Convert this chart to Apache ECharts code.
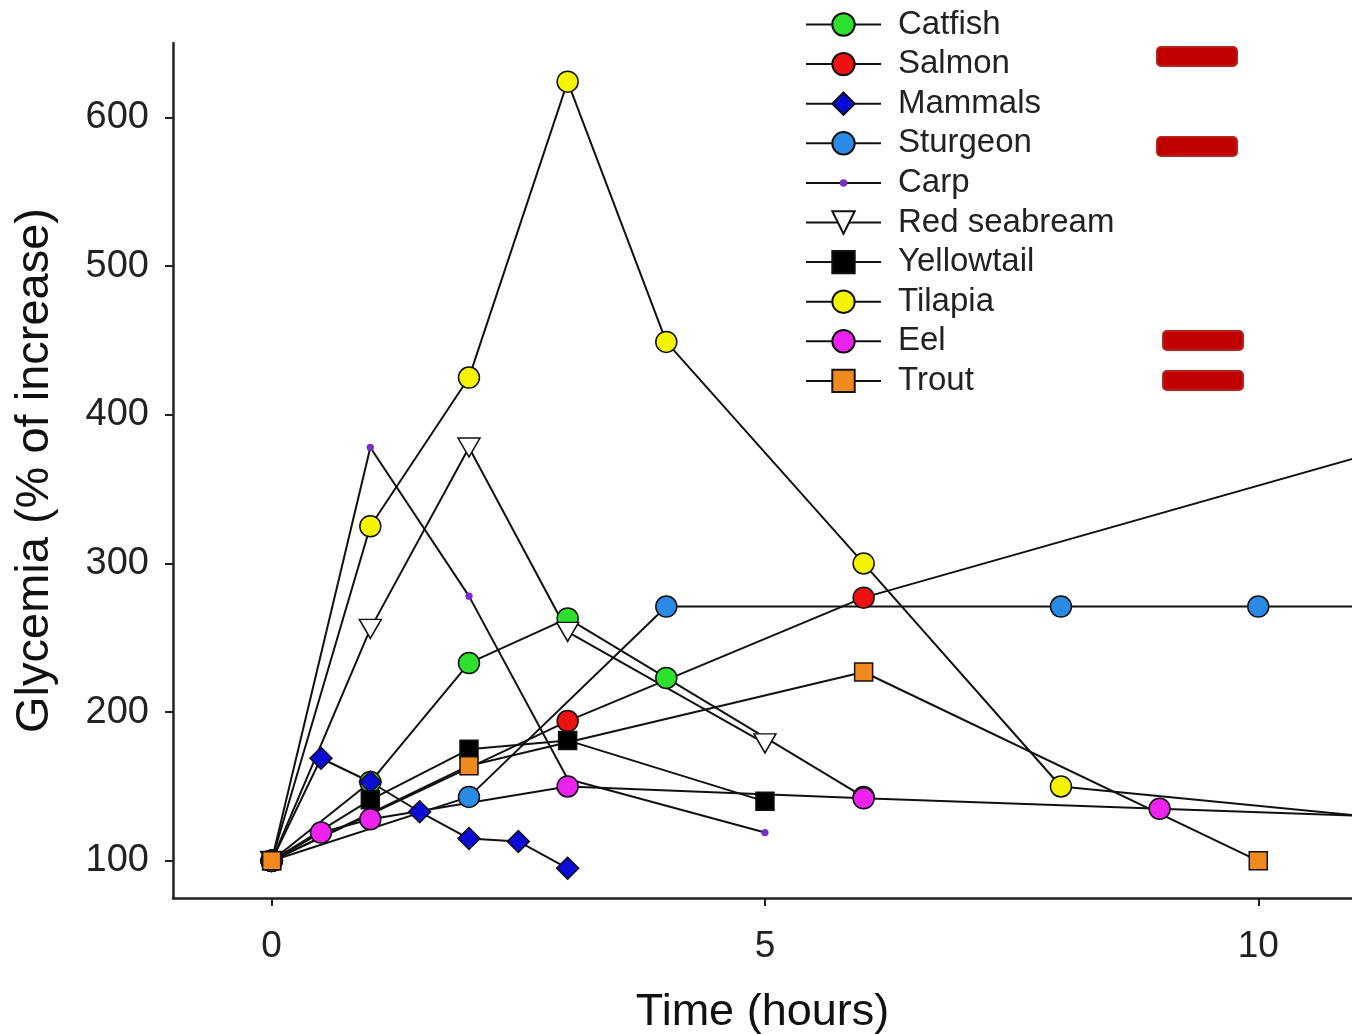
<!DOCTYPE html>
<html><head><meta charset="utf-8">
<script src="https://cdn.jsdelivr.net/npm/echarts@6/dist/echarts.min.js"></script>
<style>html,body{margin:0;padding:0;background:#fff}#c{width:1352px;height:1034px}</style>
</head><body><div id="c"></div>
<script>
// ---- data ----
const seriesNames = ['Catfish','Salmon','Mammals','Sturgeon','Carp','Red seabream','Yellowtail','Tilapia','Eel','Trout'];
const catfishData    = [[0,100],[1,153],[2,233],[3,263],[4,223],[6,143]];
const salmonData     = [[0,100],[3,194],[6,277],[12,390]];
const mammalsData    = [[0,100],[0.5,169],[1,153],[1.5,133],[2,115],[2.5,113],[3,95]];
const sturgeonData   = [[0,100],[2,143],[4,271],[8,271],[10,271],[12,271]];
const carpData       = [[0,100],[1,378],[2,278],[3,155],[5,119]];
const seabreamData   = [[0,100],[1,256],[2,378],[3,254],[5,179]];
const yellowtailData = [[0,100],[1,141],[2,175],[3,181],[5,140]];
const tilapiaData    = [[0,100],[1,325],[2,425],[3,624],[4,449],[6,300],[8,150],[12,124]];
const eelData        = [[0,100],[0.5,119],[1,128],[3,150],[6,142],[9,135],[12,128]];
const troutData      = [[0,100],[2,164],[6,227],[10,100]];
const xTicks = [0,5,10];
const yTicks = [100,200,300,400,500,600];
const xTitle = 'Time (hours)';
const yTitle = 'Glycemia (% of increase)';

// ---- styles ----
const dataByName = {
  'Catfish':catfishData,'Salmon':salmonData,'Mammals':mammalsData,'Sturgeon':sturgeonData,
  'Carp':carpData,'Red seabream':seabreamData,'Yellowtail':yellowtailData,'Tilapia':tilapiaData,
  'Eel':eelData,'Trout':troutData
};
const smallDot = 'path://M0,0M24,24M8,12A4,4,0,1,1,16,12A4,4,0,1,1,8,12Z';
const styleByName = {
  'Catfish':     {symbol:'circle', size:21, color:'#2EE02E'},
  'Salmon':      {symbol:'circle', size:21, color:'#EE1111'},
  'Mammals':     {symbol:'diamond', size:22, color:'#0B0BD6'},
  'Sturgeon':    {symbol:'circle', size:21, color:'#2A8BE6'},
  'Carp':        {symbol:smallDot, size:22, color:'#7A2FC8', border:0},
  'Red seabream':{symbol:'triangle', size:[22,19], color:'#FFFFFF', rotate:180},
  'Yellowtail':  {symbol:'rect', size:18, color:'#000000'},
  'Tilapia':     {symbol:'circle', size:21, color:'#F4F400'},
  'Eel':         {symbol:'circle', size:21, color:'#EE22EE'},
  'Trout':       {symbol:'rect', size:18, color:'#F08A1E'}
};
const FONT = '"Liberation Sans", Arial, Helvetica, sans-serif';

const series = seriesNames.map(n => {
  const s = styleByName[n];
  return {
    name: n, type: 'line', data: dataByName[n],
    symbol: s.symbol, symbolSize: s.size, symbolRotate: s.rotate || 0,
    showAllSymbol: true, clip: true, animation: false,
    lineStyle: {color:'#111', width:2},
    itemStyle: {color: s.color, borderColor:'#111', borderWidth: s.border === 0 ? 0 : 1.5},
    emphasis: {disabled:true}
  };
});

const chart = echarts.init(document.getElementById('c'), null, {renderer:'canvas'});
chart.setOption({
  animation: false,
  backgroundColor: '#fff',
  grid: {left:173, right:0, top:43, bottom:136, containLabel:false, outerBoundsMode:'none'},
  xAxis: {
    type:'value', min:-1, max:10.95,
    name: xTitle, nameLocation:'middle', nameGap:92,
    nameTextStyle:{fontFamily:FONT, fontSize:45, color:'#111'},
    axisLine:{show:true, onZero:false, lineStyle:{color:'#222', width:2.5}},
    axisTick:{show:true, length:8, inside:false, customValues:xTicks, lineStyle:{color:'#222', width:2}},
    axisLabel:{customValues:xTicks, fontFamily:FONT, fontSize:37, color:'#222', margin:30},
    splitLine:{show:false}
  },
  yAxis: {
    type:'value', min:75, max:650,
    name: yTitle, nameLocation:'middle', nameGap:114, nameRotate:90,
    nameTextStyle:{fontFamily:FONT, fontSize:47, color:'#111'},
    axisLine:{show:true, onZero:false, lineStyle:{color:'#222', width:2.5}},
    axisTick:{show:true, length:8, inside:false, customValues:yTicks, lineStyle:{color:'#222', width:2}},
    axisLabel:{customValues:yTicks, fontFamily:FONT, fontSize:38, color:'#222', margin:24},
    splitLine:{show:false}
  },
  legend: {
    data: seriesNames, orient:'vertical', left:805, top:8, padding:0,
    itemWidth:75, itemHeight:28, itemGap:6.6,
    textStyle:{fontFamily:FONT, fontSize:33, color:'#222', padding:[0,0,0,12]},
    selectedMode:false
  },
  graphic: [
    {type:'rect', shape:{x:1157,y:47,width:80,height:19,r:4}, style:{fill:'#C00000', stroke:'#B4241A', lineWidth:2}},
    {type:'rect', shape:{x:1157,y:137,width:80,height:19,r:4}, style:{fill:'#C00000', stroke:'#B4241A', lineWidth:2}},
    {type:'rect', shape:{x:1163,y:331,width:80,height:19,r:4}, style:{fill:'#C00000', stroke:'#B4241A', lineWidth:2}},
    {type:'rect', shape:{x:1163,y:371,width:80,height:19,r:4}, style:{fill:'#C00000', stroke:'#B4241A', lineWidth:2}}
  ],
  series: series
});
</script></body></html>
